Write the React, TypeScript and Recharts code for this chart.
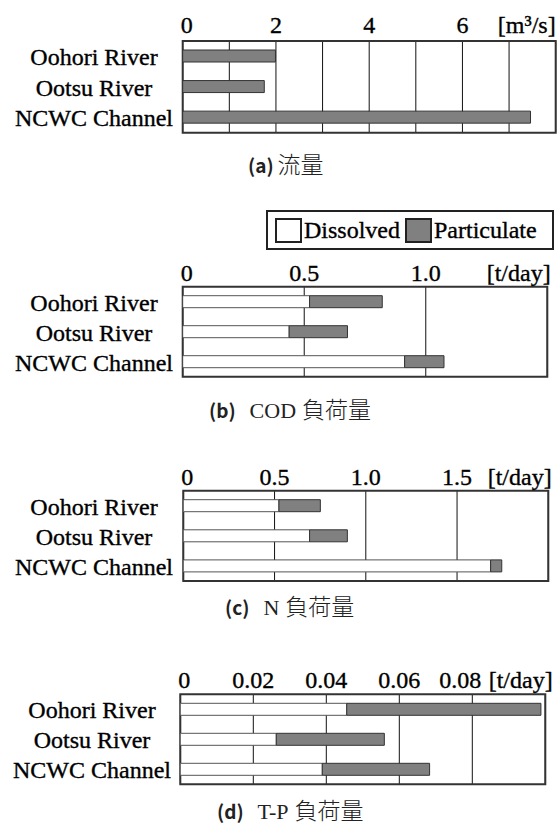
import React from "react";
import { BarChart, Bar, XAxis, YAxis, CartesianGrid, ReferenceArea } from "recharts";

const rivers = ["Oohori River", "Ootsu River", "NCWC Channel"];

// (a) flow [m3/s]
const flow = [1.99, 1.75, 7.46];
const flowTicks = [0, 1, 2, 3, 4, 5, 6, 7, 8];
const flowTickLabels = ["0", "", "2", "", "4", "", "6", "", "[m³/s]"];

// (b) COD load [t/day]
const codDissolved = [0.522, 0.438, 0.913];
const codParticulate = [0.299, 0.24, 0.162];
const codTicks = [0, 0.5, 1.0, 1.5];
const codTickLabels = ["0", "0.5", "1.0", "[t/day]"];

// (c) N load [t/day]
const nDissolved = [0.524, 0.692, 1.684];
const nParticulate = [0.227, 0.207, 0.061];
const nTicks = [0, 0.5, 1.0, 1.5, 2.0];
const nTickLabels = ["0", "0.5", "1.0", "1.5", "[t/day]"];

// (d) T-P load [t/day]
const tpDissolved = [0.0456, 0.0263, 0.0389];
const tpParticulate = [0.0532, 0.0296, 0.0294];
const tpTicks = [0, 0.02, 0.04, 0.06, 0.08, 0.1];
const tpTickLabels = ["0", "0.02", "0.04", "0.06", "0.08", "[t/day]"];

const seriesNames = ["Dissolved", "Particulate"];

const serif = "Liberation Serif, Times New Roman, serif";
const cjk = "Noto Sans CJK JP, Noto Sans, sans-serif";

const W = 557;

// last tick carries the unit, right-aligned to the frame; crowded labels get nudged
function makeXTick(ticks: number[], labels: string[], unitDx: number, nudge: number[]) {
  return (props: any) => {
    const { x, y, payload } = props;
    const i = ticks.findIndex((t) => Math.abs(t - payload.value) < 1e-9);
    const label = labels[i] || "";
    if (!label) return <g />;
    const last = i === ticks.length - 1;
    return (
      <text
        x={last ? x + unitDx : x + (nudge[i] || 0)}
        y={y}
        textAnchor={last ? "end" : "middle"}
        style={{ fontFamily: serif, fontSize: 24 }}
        fill="#000"
        stroke="#000"
        strokeWidth={0.35}
      >
        {label}
      </text>
    );
  };
}

// river names are centred in the left margin
function makeYTick(cx: number) {
  return (props: any) => {
    const { y, payload } = props;
    return (
      <text x={cx} y={y} dy={9} textAnchor="middle" style={{ fontFamily: serif, fontSize: 24 }} fill="#000" stroke="#000" strokeWidth={0.35}>
        {payload.value}
      </text>
    );
  };
}

function Panel(props: any) {
  const { data, top, height, plotTop, plotLeft, plotRight, plotBottom, ticks, labels, unitDx, gap, nudge, labelX, stacked } = props;
  const max = ticks[ticks.length - 1];
  return (
    <div style={{ position: "absolute", left: 0, top, width: W, height }}>
      <BarChart
        width={W}
        height={height}
        data={data}
        layout="vertical"
        margin={{ top: plotTop - top - 30, right: W - plotRight, bottom: top + height - plotBottom, left: 0 }}
      >
        <CartesianGrid horizontal={false} stroke="#111" strokeWidth={1} />
        <XAxis
          type="number"
          orientation="top"
          height={30}
          domain={[0, max]}
          ticks={ticks}
          interval={0}
          axisLine={false}
          tickLine={false}
          tickSize={0}
          tickMargin={gap}
          tick={makeXTick(ticks, labels, unitDx, nudge)}
          allowDataOverflow
        />
        <YAxis
          type="category"
          dataKey="name"
          width={plotLeft}
          axisLine={false}
          tickLine={false}
          tickSize={0}
          tickMargin={8}
          tick={makeYTick(labelX)}
          interval={0}
        />
        {stacked ? (
          <>
            <Bar dataKey="dissolved" stackId="s" fill="#ffffff" stroke="#555" strokeWidth={1} barSize={12} isAnimationActive={false} />
            <Bar dataKey="particulate" stackId="s" fill="#808080" stroke="#333" strokeWidth={1} barSize={12} isAnimationActive={false} />
          </>
        ) : (
          <Bar dataKey="value" fill="#808080" stroke="#333" strokeWidth={1} barSize={12} isAnimationActive={false} />
        )}
        <ReferenceArea x1={0} x2={max} fill="none" stroke="#333" strokeWidth={2} ifOverflow="visible" />
      </BarChart>
    </div>
  );
}

function Caption({ top, left, tag, latin, kanji }: any) {
  return (
    <div style={{ position: "absolute", top, left, whiteSpace: "nowrap", lineHeight: "20px", color: "#222" }}>
      <span style={{ fontFamily: cjk, fontWeight: 700, fontSize: 19 }}>{tag}</span>
      {latin ? <span style={{ fontFamily: serif, fontSize: 22, marginLeft: 14 }}>{latin}</span> : null}
      <span style={{ fontFamily: cjk, fontWeight: 300, fontSize: 23, marginLeft: latin ? 6 : 4 }}>{kanji}</span>
    </div>
  );
}

function Legend() {
  const fills = ["#ffffff", "#808080"];
  return (
    <div
      style={{
        position: "absolute",
        left: 266,
        top: 210,
        width: 284,
        height: 36,
        border: "2px solid #222",
        display: "flex",
        alignItems: "center",
        fontFamily: serif,
        fontSize: 24,
        color: "#000",
        WebkitTextStroke: "0.35px #000",
      }}
    >
      {seriesNames.map((n, i) => (
        <div key={n} style={{ display: "flex", alignItems: "center", marginLeft: i === 0 ? 7 : 5 }}>
          <div style={{ width: 23, height: 21, border: "2px solid #222", background: fills[i], marginRight: 2 }} />
          <span>{n}</span>
        </div>
      ))}
    </div>
  );
}

export default function App() {
  const flowData = rivers.map((name, i) => ({ name, value: flow[i] }));
  const codData = rivers.map((name, i) => ({ name, dissolved: codDissolved[i], particulate: codParticulate[i] }));
  const nData = rivers.map((name, i) => ({ name, dissolved: nDissolved[i], particulate: nParticulate[i] }));
  const tpData = rivers.map((name, i) => ({ name, dissolved: tpDissolved[i], particulate: tpParticulate[i] }));

  return (
    <div style={{ position: "absolute", left: 0, top: 0, width: W, height: 825, background: "#fff", overflow: "hidden", fontFamily: serif }}>
      <Panel data={flowData} top={0} height={140} plotTop={41} plotLeft={182.7} plotRight={555.7} plotBottom={132.7}
        ticks={flowTicks} labels={flowTickLabels} unitDx={0} gap={8} nudge={[4]} labelX={94} stacked={false} />
      <Caption top={153} left={248} tag="(a)" kanji="流量" />

      <Legend />
      <Panel data={codData} top={255} height={130} plotTop={286.7} plotLeft={182.7} plotRight={547.3} plotBottom={376.7}
        ticks={codTicks} labels={codTickLabels} unitDx={3.4} gap={6} nudge={[4]} labelX={94} stacked />
      <Caption top={398} left={209} tag="(b)" latin="COD" kanji="負荷量" />

      <Panel data={nData} top={445} height={145} plotTop={490.7} plotLeft={183.3} plotRight={548.3} plotBottom={581}
        ticks={nTicks} labels={nTickLabels} unitDx={3.4} gap={6} nudge={[4]} labelX={94} stacked />
      <Caption top={595} left={225} tag="(c)" latin="N" kanji="負荷量" />

      <Panel data={tpData} top={650} height={140} plotTop={694.3} plotLeft={180.3} plotRight={545.3} plotBottom={784.3}
        ticks={tpTicks} labels={tpTickLabels} unitDx={7.4} gap={6} nudge={[4, 0, 0, 0, -12]} labelX={92} stacked />
      <Caption top={799} left={217} tag="(d)" latin="T-P" kanji="負荷量" />
    </div>
  );
}
